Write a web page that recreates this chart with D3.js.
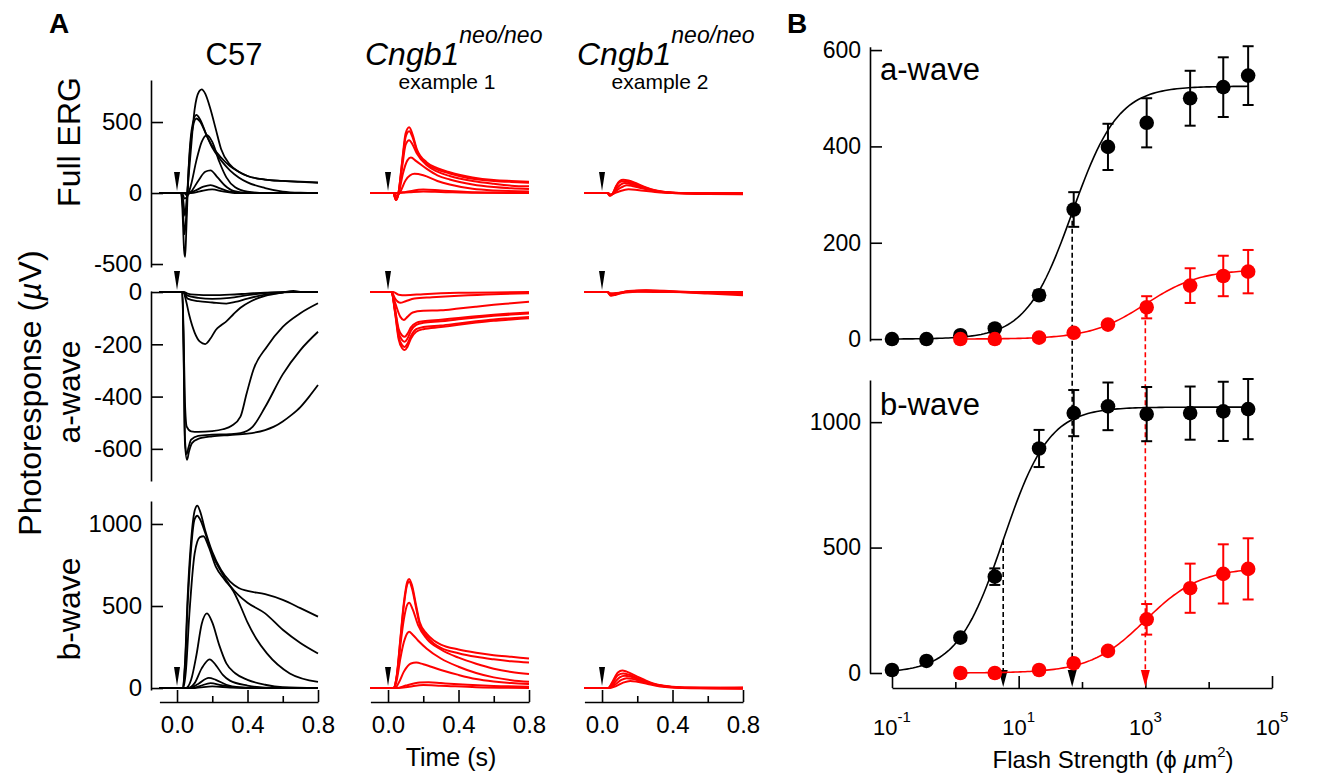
<!DOCTYPE html>
<html>
<head>
<meta charset="utf-8">
<script src="https://cdn.jsdelivr.net/npm/d3@7"></script>
<style>
  body { margin: 0; background: #fff; }
</style>
</head>
<body>
<svg id="fig" width="1344" height="775"></svg>
<script>
// ---------- Panel A: ERG traces, each trace = [time (s), response (µV)] pairs ----------
const c57Erg = [
  [[-0.1,0],[0.02,0],[0.035,-50],[0.045,-160],[0.055,-40],[0.075,250],[0.1,590],[0.125,715],[0.14,730],[0.16,700],[0.19,590],[0.22,450],[0.25,310],[0.3,200],[0.35,150],[0.4,120],[0.5,95],[0.6,85],[0.7,78],[0.8,72]],
  [[-0.1,0],[0.02,0],[0.03,-100],[0.04,-400],[0.046,-450],[0.053,-250],[0.065,150],[0.085,460],[0.11,550],[0.13,520],[0.17,400],[0.2,320],[0.25,230],[0.3,160],[0.35,110],[0.4,75],[0.5,35],[0.6,10],[0.7,2],[0.8,0]],
  [[-0.1,0],[0.02,0],[0.032,-80],[0.042,-290],[0.05,-200],[0.065,150],[0.085,430],[0.11,525],[0.13,505],[0.17,400],[0.2,330],[0.25,250],[0.3,190],[0.35,150],[0.4,120],[0.5,95],[0.6,85],[0.7,80],[0.8,75]],
  [[-0.1,0],[0.03,0],[0.042,-40],[0.055,-30],[0.08,60],[0.11,230],[0.14,360],[0.17,408],[0.2,360],[0.24,220],[0.28,110],[0.33,40],[0.4,10],[0.5,0],[0.8,0]],
  [[-0.1,0],[0.04,0],[0.055,-15],[0.08,10],[0.12,85],[0.16,150],[0.19,160],[0.23,110],[0.27,55],[0.32,15],[0.4,0],[0.8,0]],
  [[-0.1,0],[0.06,0],[0.1,15],[0.15,45],[0.19,56],[0.24,35],[0.3,10],[0.4,0],[0.8,0]],
  [[-0.1,0],[0.08,0],[0.13,12],[0.2,25],[0.26,12],[0.34,0],[0.8,0]]
];
const c57AWave = [
  [[-0.1,0],[0.04,0],[0.06,-6],[0.1,-10],[0.2,-12],[0.3,-10],[0.4,-6],[0.5,-2],[0.6,0],[0.8,0]],
  [[-0.1,0],[0.04,0],[0.06,-14],[0.12,-22],[0.2,-26],[0.3,-22],[0.4,-12],[0.5,-4],[0.6,0],[0.8,0]],
  [[-0.1,0],[0.035,0],[0.06,-25],[0.12,-35],[0.2,-40],[0.28,-44],[0.33,-38],[0.4,-25],[0.5,-10],[0.6,-2],[0.65,0],[0.8,0]],
  [[-0.1,0],[0.035,0],[0.05,-30],[0.07,-90],[0.1,-155],[0.13,-190],[0.16,-199],[0.19,-178],[0.22,-145],[0.25,-127],[0.28,-112],[0.32,-85],[0.36,-60],[0.42,-35],[0.5,-15],[0.6,-2],[0.66,4],[0.72,0],[0.8,0]],
  [[-0.1,0],[0.03,0],[0.037,-150],[0.045,-420],[0.055,-515],[0.08,-533],[0.12,-535],[0.2,-532],[0.26,-525],[0.31,-512],[0.36,-477],[0.395,-388],[0.433,-298],[0.51,-209],[0.6,-133],[0.7,-81],[0.8,-43]],
  [[-0.1,0],[0.03,0],[0.037,-200],[0.045,-560],[0.055,-620],[0.065,-595],[0.08,-565],[0.12,-550],[0.2,-546],[0.3,-544],[0.36,-540],[0.43,-515],[0.5,-440],[0.6,-315],[0.7,-222],[0.8,-152]],
  [[-0.1,0],[0.03,0],[0.037,-220],[0.045,-580],[0.057,-642],[0.068,-610],[0.085,-578],[0.12,-562],[0.2,-552],[0.3,-547],[0.4,-542],[0.5,-528],[0.55,-515],[0.6,-495],[0.65,-470],[0.7,-440],[0.75,-400],[0.8,-356]]
];
const c57BWave = [
  [[-0.1,0],[0.03,0],[0.045,150],[0.06,550],[0.08,900],[0.1,1080],[0.115,1112],[0.13,1080],[0.16,960],[0.2,830],[0.25,720],[0.3,650],[0.35,610],[0.4,592],[0.5,572],[0.6,537],[0.7,487],[0.8,435]],
  [[-0.1,0],[0.03,0],[0.045,130],[0.06,500],[0.08,850],[0.1,1030],[0.115,1050],[0.13,1030],[0.16,945],[0.2,815],[0.25,710],[0.3,625],[0.35,565],[0.4,520],[0.5,455],[0.6,355],[0.7,275],[0.8,211]],
  [[-0.1,0],[0.035,0],[0.05,100],[0.07,450],[0.1,820],[0.13,920],[0.15,925],[0.18,860],[0.22,740],[0.27,660],[0.32,590],[0.36,500],[0.4,400],[0.45,300],[0.51,211],[0.64,89],[0.8,38]],
  [[-0.1,0],[0.05,0],[0.08,50],[0.11,200],[0.14,390],[0.17,455],[0.2,400],[0.24,260],[0.28,150],[0.33,90],[0.4,50],[0.5,20],[0.6,5],[0.8,0]],
  [[-0.1,0],[0.06,0],[0.1,30],[0.14,120],[0.185,175],[0.22,140],[0.26,80],[0.3,45],[0.4,15],[0.5,3],[0.8,0]],
  [[-0.1,0],[0.07,0],[0.12,25],[0.18,62],[0.22,50],[0.28,20],[0.35,5],[0.45,0],[0.8,0]],
  [[-0.1,0],[0.08,0],[0.13,12],[0.19,30],[0.25,18],[0.32,5],[0.4,0],[0.8,0]],
  [[-0.1,0],[0.1,0],[0.2,10],[0.3,3],[0.4,0],[0.8,0]]
];
const ex1Erg = [
  [[-0.1,0],[0.03,0],[0.045,-50],[0.058,-10],[0.08,220],[0.1,420],[0.12,463],[0.14,410],[0.163,310],[0.22,216],[0.28,175],[0.35,146],[0.48,110],[0.6,92],[0.7,85],[0.8,80]],
  [[-0.1,0],[0.03,0],[0.045,-48],[0.058,-10],[0.08,210],[0.1,395],[0.12,435],[0.14,390],[0.163,300],[0.22,205],[0.28,165],[0.35,138],[0.48,100],[0.6,85],[0.7,78],[0.8,73]],
  [[-0.1,0],[0.03,0],[0.045,-45],[0.058,-10],[0.08,180],[0.1,340],[0.12,372],[0.14,340],[0.163,280],[0.22,195],[0.28,150],[0.35,120],[0.48,85],[0.6,65],[0.7,52],[0.8,47]],
  [[-0.1,0],[0.03,0],[0.045,-40],[0.06,-5],[0.085,140],[0.11,230],[0.13,250],[0.16,225],[0.22,170],[0.28,125],[0.35,95],[0.48,60],[0.6,42],[0.7,33],[0.8,28]],
  [[-0.1,0],[0.035,0],[0.05,-20],[0.07,10],[0.1,90],[0.15,135],[0.2,125],[0.28,85],[0.35,60],[0.48,30],[0.6,18],[0.8,11]],
  [[-0.1,0],[0.05,0],[0.1,8],[0.2,25],[0.3,18],[0.45,8],[0.6,3],[0.8,0]],
  [[-0.1,0],[0.06,0],[0.12,5],[0.2,11],[0.3,8],[0.5,2],[0.8,0]]
];
const ex1AWave = [
  [[-0.1,0],[0.02,0],[0.04,-80],[0.06,-180],[0.08,-215],[0.095,-222],[0.11,-210],[0.13,-178],[0.16,-152],[0.2,-142],[0.3,-134],[0.4,-125],[0.5,-117],[0.6,-110],[0.7,-105],[0.8,-100]],
  [[-0.1,0],[0.02,0],[0.04,-75],[0.06,-170],[0.08,-203],[0.095,-210],[0.11,-198],[0.13,-168],[0.16,-142],[0.2,-134],[0.3,-128],[0.4,-120],[0.5,-112],[0.6,-105],[0.7,-100],[0.8,-95]],
  [[-0.1,0],[0.02,0],[0.04,-70],[0.06,-155],[0.08,-184],[0.095,-190],[0.11,-178],[0.13,-148],[0.16,-126],[0.2,-118],[0.3,-112],[0.4,-104],[0.5,-97],[0.6,-91],[0.7,-86],[0.8,-82]],
  [[-0.1,0],[0.02,0],[0.04,-65],[0.06,-140],[0.08,-166],[0.095,-171],[0.11,-160],[0.13,-135],[0.16,-118],[0.2,-112],[0.3,-106],[0.4,-99],[0.5,-93],[0.6,-87],[0.7,-82],[0.8,-78]],
  [[-0.1,0],[0.02,0],[0.04,-40],[0.07,-95],[0.09,-107],[0.11,-95],[0.14,-78],[0.2,-72],[0.3,-70],[0.4,-63],[0.5,-56],[0.6,-49],[0.7,-43],[0.8,-37]],
  [[-0.1,0],[0.02,0],[0.04,-25],[0.07,-41],[0.1,-35],[0.15,-25],[0.25,-20],[0.4,-14],[0.6,-8],[0.8,-5]],
  [[-0.1,0],[0.03,0],[0.06,-10],[0.1,-12],[0.2,-8],[0.4,-3],[0.8,0]]
];
const ex1BWave = [
  [[-0.1,0],[0.03,0],[0.05,80],[0.07,300],[0.09,520],[0.11,650],[0.12,665],[0.135,630],[0.16,500],[0.18,400],[0.22,330],[0.26,290],[0.3,265],[0.4,235],[0.5,215],[0.6,200],[0.7,190],[0.8,180]],
  [[-0.1,0],[0.03,0],[0.05,75],[0.07,290],[0.09,505],[0.11,635],[0.12,648],[0.135,612],[0.16,485],[0.18,385],[0.22,315],[0.26,272],[0.3,245],[0.4,212],[0.5,190],[0.6,175],[0.7,163],[0.8,155]],
  [[-0.1,0],[0.03,0],[0.05,70],[0.07,260],[0.09,420],[0.11,510],[0.12,520],[0.14,480],[0.17,385],[0.22,300],[0.3,235],[0.4,185],[0.5,148],[0.6,118],[0.7,98],[0.8,85]],
  [[-0.1,0],[0.035,0],[0.05,50],[0.07,180],[0.09,280],[0.11,335],[0.12,343],[0.14,325],[0.17,290],[0.22,240],[0.3,180],[0.4,130],[0.5,92],[0.6,65],[0.7,48],[0.8,38]],
  [[-0.1,0],[0.04,0],[0.06,30],[0.09,100],[0.13,150],[0.16,155],[0.2,145],[0.3,110],[0.4,80],[0.5,55],[0.6,40],[0.7,30],[0.8,24]],
  [[-0.1,0],[0.05,0],[0.1,15],[0.18,33],[0.23,35],[0.3,30],[0.45,20],[0.6,13],[0.8,8]],
  [[-0.1,0],[0.06,0],[0.12,8],[0.2,18],[0.3,14],[0.5,5],[0.8,0]]
];
const ex2Erg = [
  [[-0.1,0],[0.03,0],[0.045,-20],[0.06,-5],[0.08,50],[0.1,85],[0.12,94],[0.15,88],[0.2,65],[0.25,40],[0.3,20],[0.4,3],[0.5,-3],[0.6,-5],[0.8,-6]],
  [[-0.1,0],[0.03,0],[0.045,-18],[0.06,-5],[0.08,45],[0.1,76],[0.12,83],[0.15,78],[0.2,58],[0.25,36],[0.3,18],[0.4,2],[0.5,-2],[0.6,-3],[0.8,-3]],
  [[-0.1,0],[0.03,0],[0.045,-16],[0.06,-5],[0.085,35],[0.11,62],[0.13,70],[0.16,64],[0.2,50],[0.25,32],[0.3,16],[0.4,2],[0.5,0],[0.8,0]],
  [[-0.1,0],[0.03,0],[0.045,-14],[0.065,-3],[0.09,25],[0.12,46],[0.14,54],[0.17,50],[0.22,36],[0.3,15],[0.4,0],[0.5,-5],[0.6,-7],[0.8,-8]],
  [[-0.1,0],[0.035,0],[0.05,-10],[0.07,-2],[0.1,12],[0.15,26],[0.2,22],[0.3,8],[0.4,0],[0.6,-2],[0.8,-2]]
];
const ex2AWave = [
  [[-0.1,0],[0.03,0],[0.05,-14],[0.08,-10],[0.15,2],[0.25,6],[0.4,2],[0.6,-6],[0.8,-12]],
  [[-0.1,0],[0.03,0],[0.05,-12],[0.08,-8],[0.15,4],[0.25,7],[0.4,3],[0.6,-3],[0.8,-8]],
  [[-0.1,0],[0.03,0],[0.05,-10],[0.08,-6],[0.15,3],[0.25,5],[0.4,1],[0.6,-2],[0.8,-4]],
  [[-0.1,0],[0.03,0],[0.05,-8],[0.08,-5],[0.15,1],[0.25,3],[0.4,0],[0.6,-1],[0.8,-2]],
  [[-0.1,0],[0.03,0],[0.05,-5],[0.1,-3],[0.2,1],[0.4,0],[0.8,0]]
];
const ex2BWave = [
  [[-0.1,0],[0.035,0],[0.06,40],[0.09,95],[0.115,107],[0.14,100],[0.2,70],[0.25,45],[0.3,25],[0.4,8],[0.5,3],[0.8,0]],
  [[-0.1,0],[0.035,0],[0.06,32],[0.09,78],[0.12,88],[0.15,82],[0.2,60],[0.25,40],[0.3,22],[0.4,6],[0.5,1],[0.8,-3]],
  [[-0.1,0],[0.04,0],[0.065,25],[0.1,65],[0.13,75],[0.16,70],[0.22,48],[0.3,22],[0.4,6],[0.5,0],[0.8,4]],
  [[-0.1,0],[0.04,0],[0.07,18],[0.11,50],[0.14,60],[0.17,56],[0.23,38],[0.3,20],[0.4,5],[0.5,-2],[0.8,-5]],
  [[-0.1,0],[0.045,0],[0.08,12],[0.12,33],[0.16,43],[0.2,38],[0.26,24],[0.33,10],[0.45,2],[0.8,2]]
];
const timeTicks = [0, 0.2, 0.4, 0.6, 0.8];
const timeLabels = [0, 0.4, 0.8];
const ergTicks = [-500, 0, 500];
const aWaveTicks = [-600, -400, -200, 0];
const bWaveTicks = [0, 500, 1000];

// ---------- Panel B: intensity-response (flash strength in photons/µm²) ----------
const flash = [0.1, 0.35, 1.2, 4.2, 21, 74, 257, 1050, 5100, 17000, 42000];
const flashNeo = [1.2, 4.2, 21, 74, 257, 1050, 5100, 17000, 42000];
const aWt = [0, 0, 8, 22, 91, 269, 399, 449, 500, 523, 547];
const aWtErr = [0, 0, 0, 0, 10, 36, 48, 51, 57, 62, 61];
const aNeo = [0, 0, 3, 13, 30, 66, 111, 131, 140];
const aNeoErr = [0, 0, 0, 0, 0, 23, 36, 42, 45];
const bWt = [12, 48, 141, 384, 895, 1036, 1063, 1032, 1036, 1043, 1052];
const bWtErr = [0, 0, 0, 33, 74, 92, 95, 108, 106, 118, 120];
const bNeo = [0, 0, 12, 39, 88, 214, 338, 395, 415];
const bNeoErr = [0, 0, 0, 0, 8, 61, 98, 118, 122];
// Hill fits: rmax (µV), half-saturating flash, exponent
const fitAWt = { rmax: 525, half: 70, n: 1.2 };
const fitANeo = { rmax: 145, half: 1000, n: 1 };
const fitBWt = { rmax: 1060, half: 5.7, n: 1.2 };
const fitBNeo = { rmax: 420, half: 1000, n: 1 };
const aTicksB = [0, 200, 400, 600];
const bTicksB = [0, 500, 1000];
const decadeTicks = [0.1, 1, 10, 100, 1e3, 1e4, 1e5];
const decadeLabels = [-1, 1, 3, 5];

const FONT = '"Liberation Sans", Arial, Helvetica, sans-serif';
const red = "#ff0000";
const ink = "#000";

const svg = d3.select("#fig").attr("font-family", FONT);

const styleAxis = (g, size) => {
  g.attr("font-family", FONT).attr("font-size", size);
  g.selectAll("path, line").attr("stroke", ink).attr("stroke-width", 1.6);
  g.selectAll("text").attr("fill", ink);
};

// ---- panel A ----
const colX = [[159.4, 318], [370.4, 529], [584.4, 743]];
const colColor = [ink, red, red];
const colWidth = [1.8, 2, 2];
const rowsA = [
  { name: "Full ERG", domain: [-521, 796], range: [267, 80], ticks: ergTicks, labelY: 142 },
  { name: "a-wave", domain: [-723, 4], range: [481, 291], ticks: aWaveTicks, labelY: 392 },
  { name: "b-wave", domain: [-12, 1140], range: [690, 501], ticks: bWaveTicks, labelY: 609 }
];
const panelsA = [
  [c57Erg, c57AWave, c57BWave],
  [ex1Erg, ex1AWave, ex1BWave],
  [ex2Erg, ex2AWave, ex2BWave]
];

panelsA.forEach((col, ci) => {
  let x = d3.scaleLinear().domain([-0.1, 0.8]).range(colX[ci]);
  col.forEach((traces, ri) => {
    let row = rowsA[ri];
    let y = d3.scaleLinear().domain(row.domain).range(row.range);
    let line = d3.line().x(d => x(d[0])).y(d => y(d[1])).curve(d3.curveMonotoneX);

    svg.append("g").selectAll("path").data(traces).join("path")
      .attr("d", line)
      .attr("fill", "none")
      .attr("stroke", colColor[ci])
      .attr("stroke-width", colWidth[ci])
      .attr("stroke-linejoin", "round");

    // flash marker at t = 0
    let fx = x(0), fy = y(0);
    svg.append("path")
      .attr("d", `M${fx - 3},${fy - 21}L${fx + 3},${fy - 21}L${fx},${fy - 2}Z`)
      .attr("fill", ink);

    if (ci === 0) {
      let ax = svg.append("g")
        .attr("transform", `translate(${x.range()[0] - 8.4},0)`)
        .call(d3.axisLeft(y).tickValues(row.ticks).tickSizeInner(-12).tickSizeOuter(0)
          .tickPadding(9).tickFormat(d => String(d)));
      styleAxis(ax, 24);
    }
  });

  // time axis
  let tx = svg.append("g")
    .attr("transform", "translate(0,702)")
    .call(d3.axisBottom(x).tickValues(timeTicks).tickSizeInner(-12).tickSizeOuter(0).tickPadding(14)
      .tickFormat(d => timeLabels.includes(d) ? d3.format(".1f")(d) : ""));
  styleAxis(tx, 24);
  tx.selectAll(".tick").filter(d => !timeLabels.includes(d)).select("line").attr("y2", -6);
});

// row labels
rowsA.forEach(row => {
  svg.append("text")
    .attr("transform", `translate(80,${row.labelY}) rotate(-90)`)
    .attr("text-anchor", "middle").attr("font-size", 32)
    .text(row.name);
});
let pr = svg.append("text")
  .attr("transform", "translate(41,393) rotate(-90)")
  .attr("text-anchor", "middle").attr("font-size", 32);
pr.append("tspan").text("Photoresponse (");
pr.append("tspan").attr("font-style", "italic").text("µ");
pr.append("tspan").text("V)");

// column titles
svg.append("text").attr("x", 59).attr("y", 33).attr("text-anchor", "middle")
  .attr("font-size", 28).attr("font-weight", "bold").text("A");
svg.append("text").attr("x", 234).attr("y", 65).attr("text-anchor", "middle")
  .attr("font-size", 31).text("C57");
[[365, 447, "example 1"], [577, 660, "example 2"]].forEach(([tx0, cx, sub]) => {
  let t = svg.append("text").attr("x", tx0).attr("y", 65).attr("font-style", "italic").attr("font-size", 32);
  t.append("tspan").text("Cngb1");
  t.append("tspan").attr("dy", -22).attr("font-size", 23).text("neo/neo");
  svg.append("text").attr("x", cx).attr("y", 89).attr("text-anchor", "middle")
    .attr("font-size", 21).text(sub);
});
svg.append("text").attr("x", 451).attr("y", 766).attr("text-anchor", "middle")
  .attr("font-size", 25).text("Time (s)");

// ---- panel B ----
const xB = d3.scaleLog().domain([0.1, 1e5]).range([892, 1272]);
const yA = d3.scaleLinear().domain([-4, 607]).range([341, 46.7]);
const yB = d3.scaleLinear().domain([0, 1168]).range([673, 380]);

const hill = (p, I) => p.rmax * Math.pow(I, p.n) / (Math.pow(I, p.n) + Math.pow(p.half, p.n));

let ayA = svg.append("g").attr("transform", "translate(870,0)")
  .call(d3.axisLeft(yA).tickValues(aTicksB).tickSizeInner(-12).tickSizeOuter(0).tickPadding(9)
    .tickFormat(d => String(d)));
styleAxis(ayA, 23);
let ayB = svg.append("g").attr("transform", "translate(870,0)")
  .call(d3.axisLeft(yB).tickValues(bTicksB).tickSizeInner(-12).tickSizeOuter(0).tickPadding(9)
    .tickFormat(d => String(d)));
styleAxis(ayB, 23);

let axB = svg.append("g").attr("transform", "translate(0,688)")
  .call(d3.axisBottom(xB).tickValues(decadeTicks).tickSizeInner(-12).tickSizeOuter(0).tickFormat(""));
styleAxis(axB, 22);
axB.selectAll(".tick").filter(d => !decadeLabels.includes(Math.round(Math.log10(d))))
  .select("line").attr("y2", -6);

decadeLabels.forEach(p => {
  let t = svg.append("text").attr("x", xB(Math.pow(10, p))).attr("y", 735)
    .attr("text-anchor", "middle").attr("font-size", 22);
  t.append("tspan").text("10");
  t.append("tspan").attr("dy", -13).attr("font-size", 15).text(String(p));
});

let fl = svg.append("text").attr("x", 1113).attr("y", 768).attr("text-anchor", "middle").attr("font-size", 24);
fl.append("tspan").text("Flash Strength (ϕ ");
fl.append("tspan").attr("font-style", "italic").text("µ");
fl.append("tspan").text("m");
fl.append("tspan").attr("dy", -11).attr("font-size", 15).text("2");
fl.append("tspan").attr("dy", 11).text(")");

svg.append("text").attr("x", 797).attr("y", 33).attr("text-anchor", "middle")
  .attr("font-size", 28).attr("font-weight", "bold").text("B");
svg.append("text").attr("x", 880).attr("y", 80).attr("font-size", 31).text("a-wave");
svg.append("text").attr("x", 880).attr("y", 415).attr("font-size", 31).text("b-wave");

// half-saturation markers: dashed drop lines with arrowheads on the flash axis
const halfLines = [
  { fit: fitBWt, y: yB, color: ink },
  { fit: fitAWt, y: yA, color: ink },
  { fit: fitANeo, y: yA, color: red }
];
halfLines.forEach(h => {
  let hx = xB(h.fit.half);
  svg.append("line")
    .attr("x1", hx).attr("x2", hx)
    .attr("y1", h.y(h.fit.rmax / 2)).attr("y2", 672)
    .attr("stroke", h.color).attr("stroke-width", 1.6).attr("stroke-dasharray", "5,3");
  svg.append("path")
    .attr("d", `M${hx - 4.5},${670}L${hx + 4.5},${670}L${hx},${687}Z`)
    .attr("fill", h.color);
});

const seriesB = [
  { y: yA, xs: flash, v: aWt, e: aWtErr, fit: fitAWt, color: ink },
  { y: yB, xs: flash, v: bWt, e: bWtErr, fit: fitBWt, color: ink },
  { y: yA, xs: flashNeo, v: aNeo, e: aNeoErr, fit: fitANeo, color: red },
  { y: yB, xs: flashNeo, v: bNeo, e: bNeoErr, fit: fitBNeo, color: red }
];

seriesB.forEach(s => {
  let lo = Math.log10(s.xs[0]), hi = Math.log10(s.xs[s.xs.length - 1]);
  let fitPts = d3.range(0, 121).map(i => {
    let I = Math.pow(10, lo + (hi - lo) * i / 120);
    return [I, hill(s.fit, I)];
  });
  svg.append("path")
    .datum(fitPts)
    .attr("d", d3.line().x(d => xB(d[0])).y(d => s.y(d[1])))
    .attr("fill", "none").attr("stroke", s.color).attr("stroke-width", 1.6);

  let pts = s.xs.map((f, i) => ({ f: f, v: s.v[i], e: s.e[i] }));
  let g = svg.append("g").attr("stroke", s.color).attr("stroke-width", 2);
  let eb = pts.filter(d => d.e > 0);
  g.selectAll(".stem").data(eb).join("line")
    .attr("x1", d => xB(d.f)).attr("x2", d => xB(d.f))
    .attr("y1", d => s.y(d.v - d.e)).attr("y2", d => s.y(d.v + d.e));
  g.selectAll(".capHi").data(eb).join("line")
    .attr("x1", d => xB(d.f) - 5.5).attr("x2", d => xB(d.f) + 5.5)
    .attr("y1", d => s.y(d.v + d.e)).attr("y2", d => s.y(d.v + d.e));
  g.selectAll(".capLo").data(eb).join("line")
    .attr("x1", d => xB(d.f) - 5.5).attr("x2", d => xB(d.f) + 5.5)
    .attr("y1", d => s.y(d.v - d.e)).attr("y2", d => s.y(d.v - d.e));
  svg.append("g").selectAll("circle").data(pts).join("circle")
    .attr("cx", d => xB(d.f)).attr("cy", d => s.y(d.v)).attr("r", 7.3)
    .attr("fill", s.color);
});
</script>
</body>
</html>
